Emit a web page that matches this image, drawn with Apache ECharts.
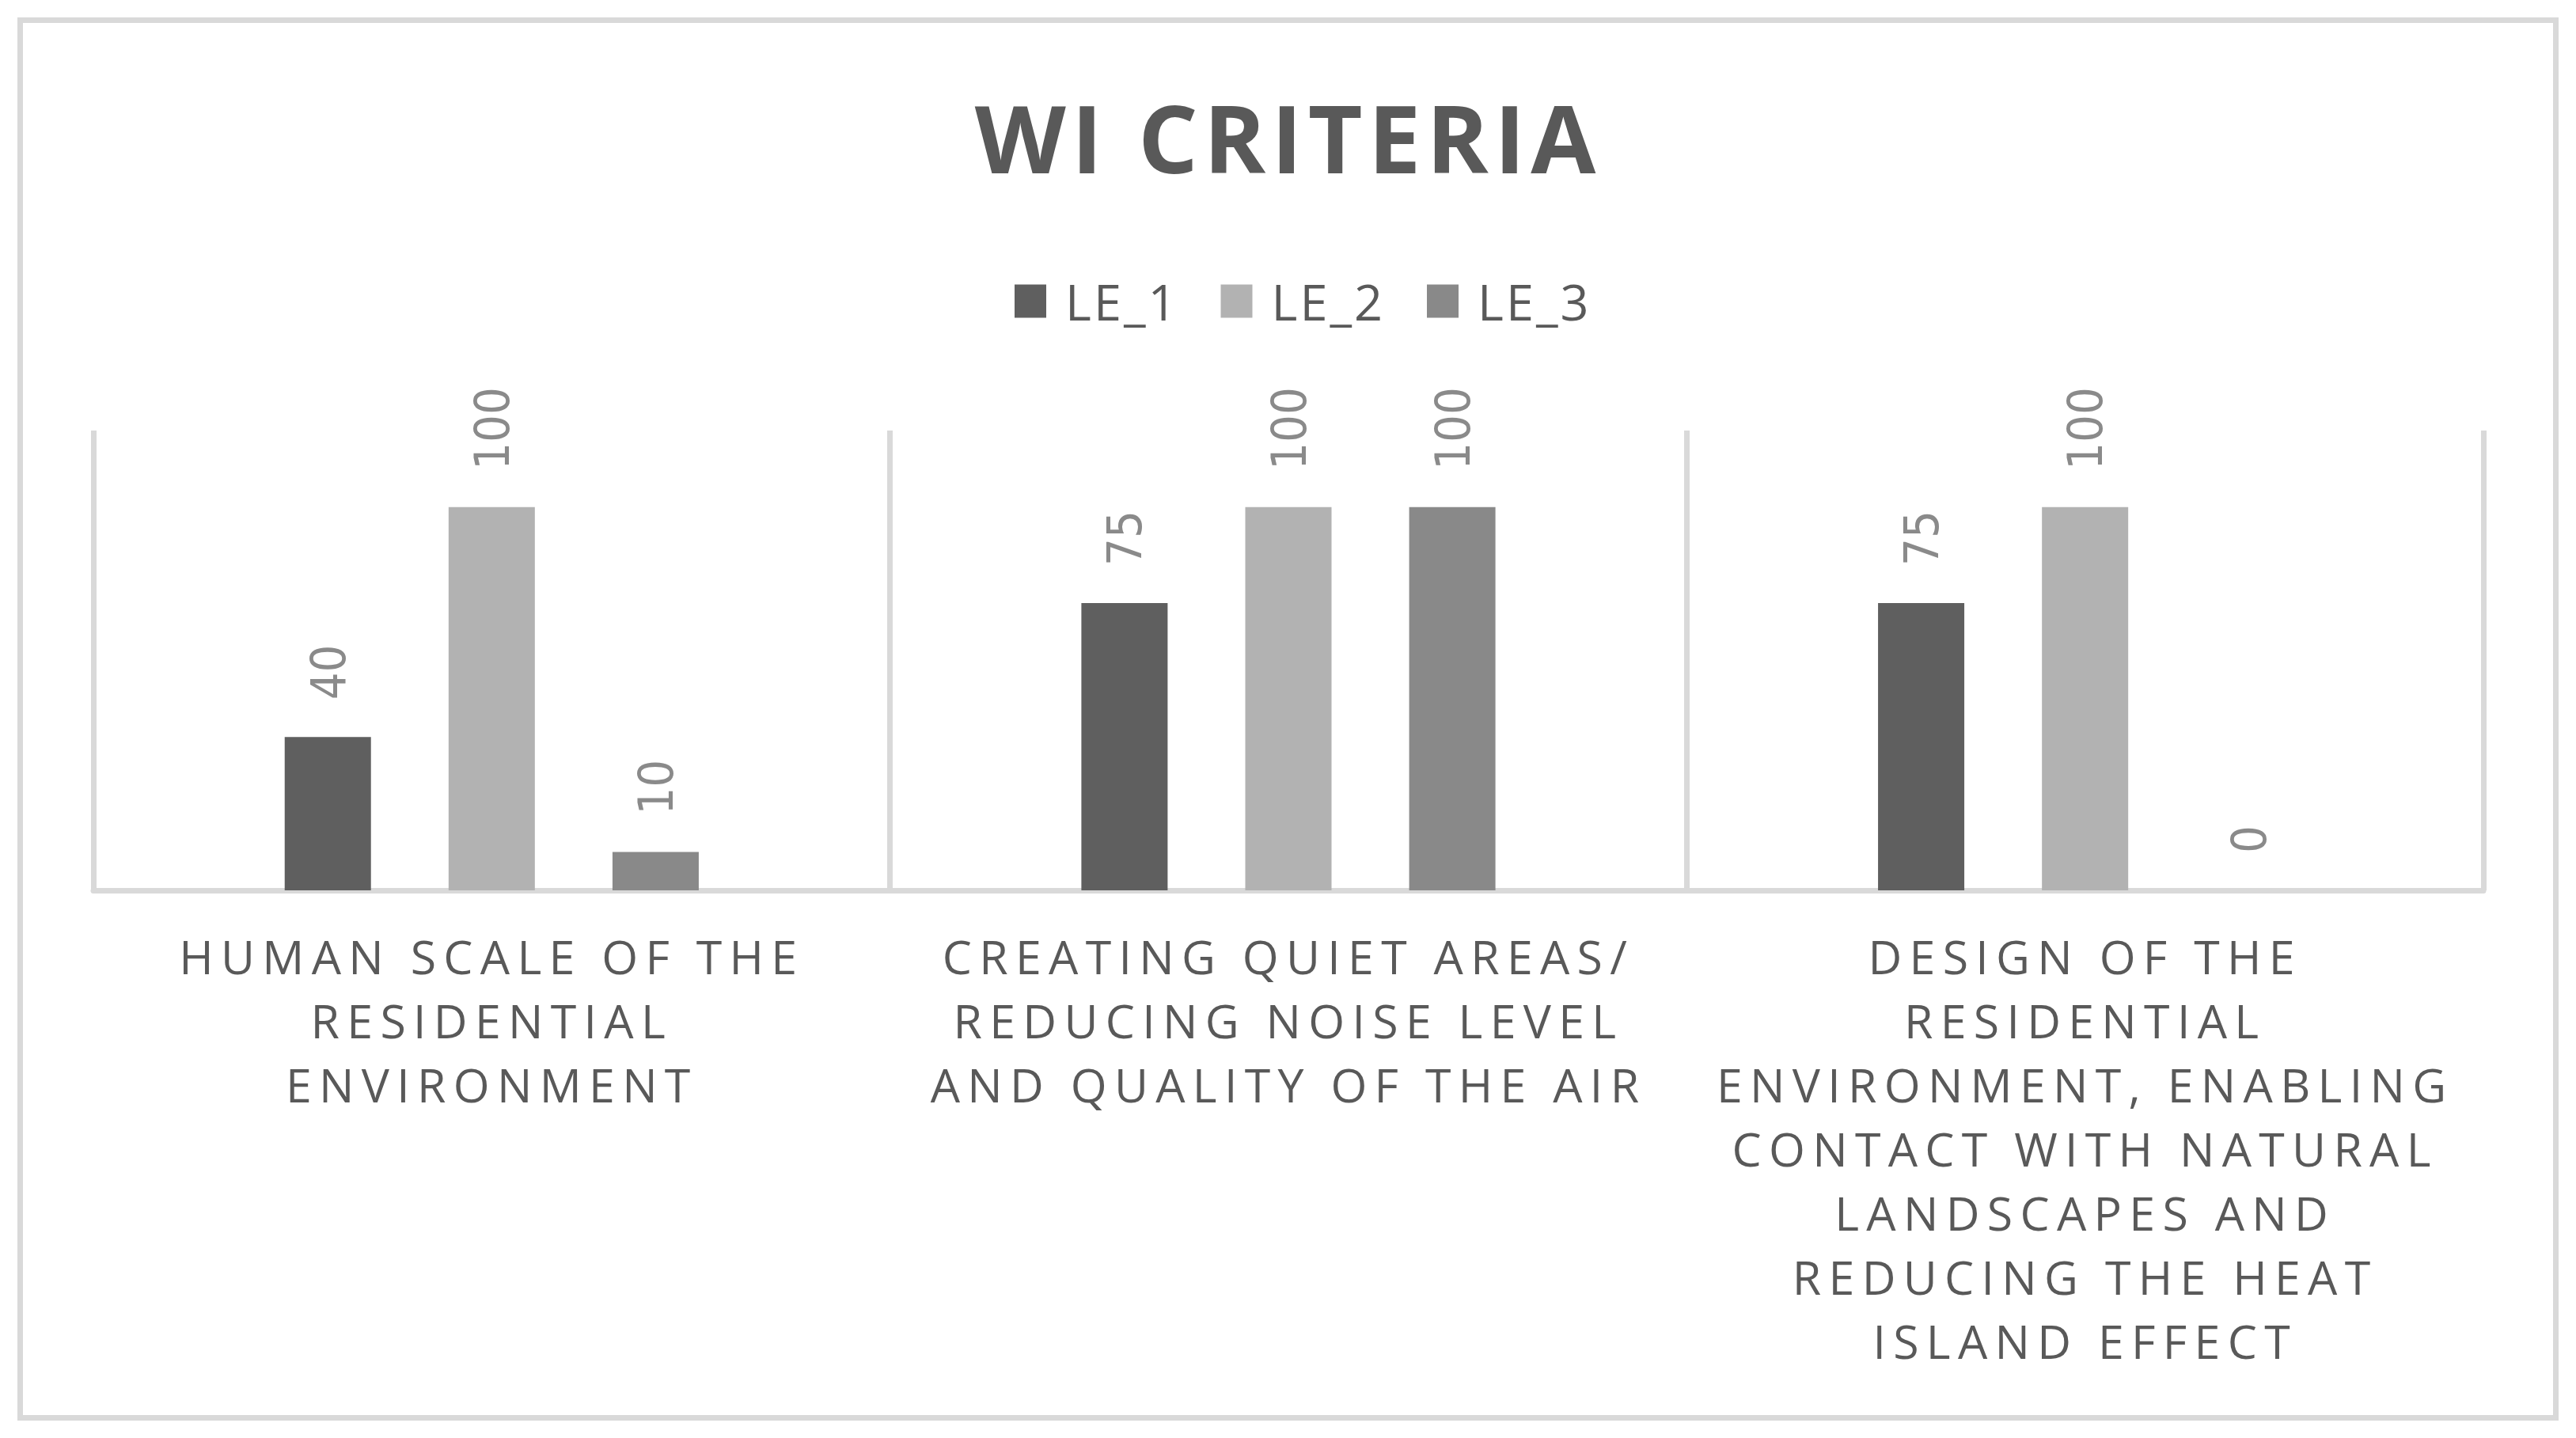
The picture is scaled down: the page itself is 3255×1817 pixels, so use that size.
<!DOCTYPE html>
<html>
<head>
<meta charset="utf-8">
<title>WI CRITERIA</title>
<script src="https://cdn.jsdelivr.net/npm/echarts@6/dist/echarts.min.js"></script>
<style>
    html, body {
        margin: 0;
        padding: 0;
        background: #ffffff;
    }
    #wiChartDiv {
        width: 3255px;
        height: 1817px;
    }
</style>
</head>
<body>
<div id="wiChartDiv"></div>
<script>
// 数据
var categories = [
    "HUMAN SCALE OF THE\nRESIDENTIAL\nENVIRONMENT",
    "CREATING QUIET AREAS/\nREDUCING NOISE LEVEL\nAND QUALITY OF THE AIR",
    "DESIGN OF THE\nRESIDENTIAL\nENVIRONMENT, ENABLING\nCONTACT WITH NATURAL\nLANDSCAPES AND\nREDUCING THE HEAT\nISLAND EFFECT"
];
var seriesNames = ["LE_1", "LE_2", "LE_3"];
var le1Values = [40, 75, 75];
var le2Values = [100, 100, 100];
var le3Values = [10, 100, 0];

var barColors = ["#5f5f5f", "#b2b2b2", "#898989"];
var textColor = "#595959";
var lineColor = "#d9d9d9";

// 字距 (按字号)
var letterSpacing = {"119": 7, "59": 9.3, "63": 3};

function applySpacing() {
    var texts = document.querySelectorAll("#wiChartDiv svg text");
    for (var i = 0; i < texts.length; i++) {
        var fs = Math.round(parseFloat(getComputedStyle(texts[i]).fontSize));
        if (letterSpacing[fs]) {
            texts[i].style.letterSpacing = letterSpacing[fs] + "px";
        }
    }
}

function makeSeries(name, values, color) {
    return {
        name: name,
        type: "bar",
        data: values,
        barWidth: 109,
        barGap: "90%",
        itemStyle: {color: color},
        label: {
            show: true,
            position: "top",
            distance: 47,
            rotate: 90,
            align: "left",
            verticalAlign: "middle",
            color: "#8a8a8a",
            fontSize: 61,
            fontFamily: "'DejaVu Sans Condensed', 'DejaVu Sans'"
        }
    };
}

var myChart = echarts.init(document.getElementById("wiChartDiv"), null, {renderer: "svg"});

var charts = {
    animation: false,
    backgroundColor: "#ffffff",
    title: {
        text: "WI CRITERIA",
        left: "center",
        top: 113,
        padding: 0,
        textStyle: {
            color: textColor,
            fontSize: 119,
            lineHeight: 119,
            fontWeight: "bold",
            fontFamily: "Open Sans"
        }
    },
    legend: {
        data: seriesNames,
        left: 1282,
        top: 349,
        padding: 0,
        icon: "rect",
        itemWidth: 40,
        itemHeight: 42,
        itemGap: 65,
        textStyle: {
            color: textColor,
            fontSize: 63,
            lineHeight: 63,
            fontFamily: "Open Sans",
            padding: [0, 0, 0, 19]
        }
    },
    grid: {
        left: 118,
        right: 117,
        top: 544,
        bottom: 692,
        containLabel: false,
        outerBoundsMode: "none"
    },
    xAxis: {
        type: "category",
        data: categories,
        axisLine: {show: true, lineStyle: {color: lineColor, width: 7}},
        axisTick: {show: false},
        splitLine: {show: true, lineStyle: {color: lineColor, width: 7}},
        axisLabel: {
            interval: 0,
            margin: 42,
            color: textColor,
            fontSize: 59,
            lineHeight: 81,
            fontFamily: "Open Sans",
            align: "center",
            verticalAlign: "top"
        }
    },
    yAxis: {
        type: "value",
        min: 0,
        max: 120,
        show: false,
        splitLine: {show: false}
    },
    graphic: [{
        type: "rect",
        shape: {x: 25.5, y: 25.5, width: 3204, height: 1766},
        style: {fill: null, stroke: lineColor, lineWidth: 7},
        silent: true
    }],
    series: [
        makeSeries(seriesNames[0], le1Values, barColors[0]),
        makeSeries(seriesNames[1], le2Values, barColors[1]),
        makeSeries(seriesNames[2], le3Values, barColors[2])
    ]
};
myChart.setOption(charts);
applySpacing();
myChart.on("finished", applySpacing);
</script>
</body>
</html>
